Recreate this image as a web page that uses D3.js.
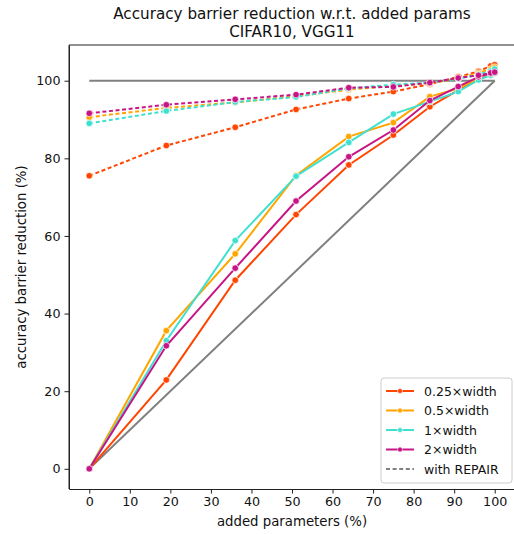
<!DOCTYPE html>
<html>
<head>
<meta charset="utf-8">
<script src="https://cdn.jsdelivr.net/npm/d3@7"></script>
<style>
  body { margin: 0; background: #fff; }
  svg { font-family: "DejaVu Sans", sans-serif; }
</style>
</head>
<body>
<div id="chart"></div>
<script>
// x positions: added parameters (%)
const addedParams = [0, 19, 36, 51, 64, 75, 84, 91, 96, 99, 100];

const seriesNames = ['0.25×width', '0.5×width', '1×width', '2×width'];

// plain weight matching
const plain025 = [0, 22.9, 48.6, 65.5, 78.3, 86.0, 93.3, 97.6, 100.4, 101.5, 102.0];
const plain05  = [0, 35.6, 55.4, 75.6, 85.6, 89.2, 95.9, 98.0, 100.6, 101.6, 102.0];
const plain1   = [0, 33.0, 58.8, 75.4, 84.1, 91.4, 94.6, 97.2, 100.2, 101.4, 102.0];
const plain2   = [0, 31.7, 51.7, 69.0, 80.4, 87.3, 94.9, 98.5, 101.0, 101.9, 102.2];

// with REPAIR
const repair025 = [75.5, 83.3, 88.0, 92.6, 95.4, 97.2, 99.1, 101.0, 102.4, 103.8, 104.1];
const repair05  = [90.6, 93.0, 94.4, 96.0, 97.7, 98.7, 99.3, 100.6, 102.0, 103.0, 103.5];
const repair1   = [89.0, 92.2, 94.5, 95.8, 98.0, 99.0, 99.5, 100.5, 101.6, 102.5, 103.0];
const repair2   = [91.6, 93.8, 95.2, 96.4, 98.2, 98.4, 99.5, 100.7, 101.4, 102.0, 102.2];

const xTicks = [0, 10, 20, 30, 40, 50, 60, 70, 80, 90, 100];
const yTicks = [0, 20, 40, 60, 80, 100];

const plainSeries = [plain025, plain05, plain1, plain2];
const repairSeries = [repair025, repair05, repair1, repair2];
const colors = ['#FF4500', '#FFA500', '#40E0D0', '#C71585'];

const width = 514, height = 534;
const margin = { top: 45, right: -1, bottom: 45, left: 69 };

const svg = d3.select('#chart').append('svg')
    .attr('width', width)
    .attr('height', height);

const x = d3.scaleLinear()
    .domain([-5, 105])
    .range([margin.left, width - margin.right]);

const y = d3.scaleLinear()
    .domain([-5.2, 109.2])
    .range([height - margin.bottom, margin.top]);

// title
const cx = (margin.left + width - margin.right) / 2;
svg.append('text')
    .attr('x', cx)
    .attr('y', 18.5)
    .attr('text-anchor', 'middle')
    .style('font-size', '15.2px')
    .style('fill', '#111')
    .text('Accuracy barrier reduction w.r.t. added params');
svg.append('text')
    .attr('x', cx)
    .attr('y', 36.5)
    .attr('text-anchor', 'middle')
    .style('font-size', '15.2px')
    .style('fill', '#111')
    .text('CIFAR10, VGG11');

// reference lines
svg.append('line')
    .attr('x1', x(0)).attr('y1', y(100))
    .attr('x2', x(100)).attr('y2', y(100))
    .attr('stroke', '#808080')
    .attr('stroke-width', 2);
svg.append('line')
    .attr('x1', x(0)).attr('y1', y(0))
    .attr('x2', x(100)).attr('y2', y(100))
    .attr('stroke', '#808080')
    .attr('stroke-width', 2);

const line = d3.line()
    .x((d, i) => x(addedParams[i]))
    .y(d => y(d));

function drawSeries(values, color, dashed) {
    svg.append('path')
        .datum(values)
        .attr('d', line)
        .attr('fill', 'none')
        .attr('stroke', color)
        .attr('stroke-width', 2)
        .attr('stroke-dasharray', dashed ? '4,2.6' : null);
    svg.append('g')
        .selectAll('circle')
        .data(values)
        .enter().append('circle')
        .attr('cx', (d, i) => x(addedParams[i]))
        .attr('cy', d => y(d))
        .attr('r', 3.3)
        .attr('fill', color)
        .attr('stroke', '#fff')
        .attr('stroke-width', 0.7);
}

seriesNames.forEach((name, k) => {
    drawSeries(plainSeries[k], colors[k], false);
});
seriesNames.forEach((name, k) => {
    drawSeries(repairSeries[k], colors[k], true);
});

// axes frame (left, top)
const frame = svg.append('g');
frame.append('line')
    .attr('x1', margin.left).attr('x2', margin.left)
    .attr('y1', margin.top).attr('y2', height - margin.bottom)
    .attr('stroke', '#222').attr('stroke-width', 1);
frame.append('line')
    .attr('x1', margin.left).attr('x2', width)
    .attr('y1', margin.top).attr('y2', margin.top)
    .attr('stroke', '#222').attr('stroke-width', 1);

const xAxis = svg.append('g')
    .attr('transform', `translate(0, ${height - margin.bottom})`)
    .call(d3.axisBottom(x).tickValues(xTicks).tickSize(4.5).tickPadding(3).tickSizeOuter(0));
const yAxis = svg.append('g')
    .attr('transform', `translate(${margin.left}, 0)`)
    .call(d3.axisLeft(y).tickValues(yTicks).tickSize(4.5).tickPadding(4).tickSizeOuter(0));

[xAxis, yAxis].forEach(a => {
    a.select('.domain').attr('stroke', '#222');
    a.selectAll('.tick line').attr('stroke', '#222');
    a.selectAll('text')
        .style('font-family', '"DejaVu Sans", sans-serif')
        .style('font-size', '12.7px')
        .style('fill', '#111');
});

// axis labels
svg.append('text')
    .attr('x', cx)
    .attr('y', 526)
    .attr('text-anchor', 'middle')
    .style('font-size', '13.3px')
    .style('fill', '#111')
    .text('added parameters (%)');
svg.append('text')
    .attr('transform', `translate(26, ${(margin.top + height - margin.bottom) / 2}) rotate(-90)`)
    .attr('text-anchor', 'middle')
    .style('font-size', '13.3px')
    .style('fill', '#111')
    .text('accuracy barrier reduction (%)');

// legend
const legend = svg.append('g').attr('transform', 'translate(381, 378)');
legend.append('rect')
    .attr('width', 131)
    .attr('height', 105)
    .attr('rx', 3)
    .attr('fill', '#fff')
    .attr('fill-opacity', 0.8)
    .attr('stroke', '#ccc')
    .attr('stroke-width', 1);

const legendItems = seriesNames.map((name, k) => ({ name, color: colors[k], dashed: false, dot: true }))
    .concat([{ name: 'with REPAIR', color: '#808080', dashed: true, dot: false }]);

legendItems.forEach((item, i) => {
    const row = legend.append('g').attr('transform', `translate(0, ${13 + i * 19.5})`);
    row.append('line')
        .attr('x1', 5).attr('x2', 33)
        .attr('stroke', item.color)
        .attr('stroke-width', 2)
        .attr('stroke-dasharray', item.dashed ? '4,2.6' : null);
    if (item.dot) {
        row.append('circle')
            .attr('cx', 19).attr('r', 2.5)
            .attr('fill', item.color)
            .attr('stroke', '#fff')
            .attr('stroke-width', 0.6);
    }
    row.append('text')
        .attr('x', 43)
        .attr('y', 4.5)
        .style('font-size', '12.5px')
        .style('fill', '#111')
        .text(item.name);
});
</script>
</body>
</html>
